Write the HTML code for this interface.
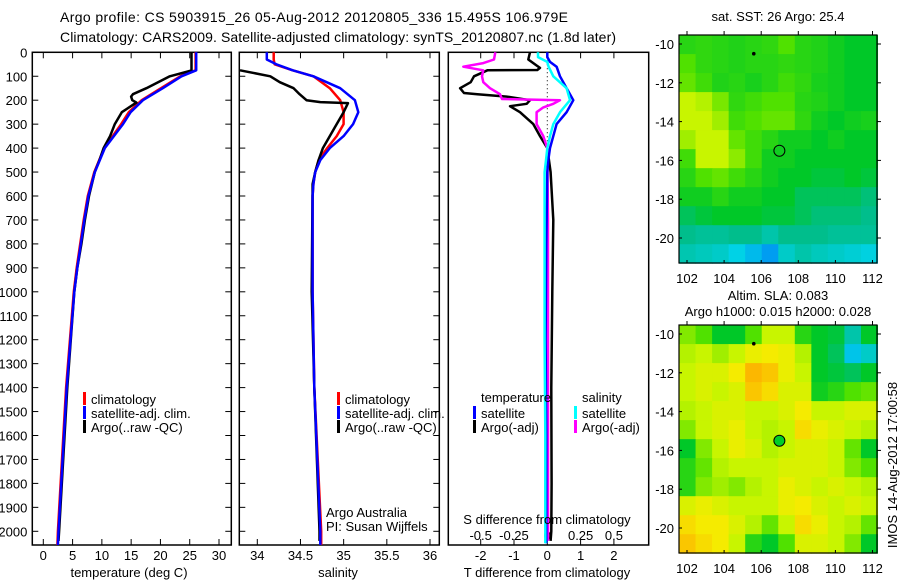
<!DOCTYPE html>
<html><head><meta charset="utf-8">
<style>
html,body{margin:0;padding:0;background:#fff;}
svg{display:block;font-family:"Liberation Sans",sans-serif;}
text{font-size:13px;fill:#000;}
</style></head>
<body>
<svg id="chart" width="900" height="580" viewBox="0 0 900 580" xmlns="http://www.w3.org/2000/svg">
<text x="60" y="22" style="font-size:14px" textLength="508">Argo profile: CS 5903915_26 05-Aug-2012 20120805_336 15.495S 106.979E</text>
<text x="60" y="42" style="font-size:14px" textLength="556">Climatology: CARS2009. Satellite-adjusted climatology: synTS_20120807.nc (1.8d later)</text>
<g id="g1"></g>
<g id="g2"></g>
<g id="g3"></g>
<g id="m1"></g>
<g id="m2"></g>
<text transform="translate(897,465) rotate(-90)" text-anchor="middle">IMOS 14-Aug-2012 17:00:58</text>
</svg>
<script>
// ---------- data ----------
const tempDepth = [0,75,100,150,200,250,300,400,500,600,700,800,900,1000,1400,2000,2057];
const tempClim  = [26,26,23.4,20.1,16.8,14.6,13.3,10.4,8.7,7.6,6.9,6.3,5.7,5.2,3.9,2.5,2.4];
const tempSat   = [26.1,26.1,23.6,20.4,17,14.9,13.6,10.5,8.8,7.7,7,6.4,5.8,5.3,4.0,2.6,2.5];
const argoTDepth= [0,75,76,100,150,175,185,200,210,250,300,350,400,450,500,600,700,800,900,1000,1400,2000,2040];
const argoTemp  = [25.3,25.3,25.3,21.6,17.6,15.3,15,15.2,15.9,13.4,12.2,11.4,10.3,9.6,8.8,7.8,7.1,6.5,5.8,5.3,4.1,2.7,2.6];

const salDepth = [0,20,30,50,75,100,150,200,250,300,350,400,450,500,550,600,1000,1400,2000,2057];
const salClim  = [34.19,34.19,34.19,34.2,34.41,34.65,34.84,34.96,35.0,35.0,34.92,34.81,34.71,34.67,34.65,34.64,34.64,34.66,34.74,34.74];
const salSat   = [34.11,34.11,34.11,34.22,34.41,34.65,34.96,35.13,35.17,35.11,35.0,34.84,34.73,34.67,34.65,34.64,34.64,34.66,34.73,34.73];
const argoSDepth=[75,100,125,150,175,200,208,212,250,300,350,400,450,500,550,1000,1400,2000,2040];
const argoSal  = [33.8,34.15,34.26,34.42,34.49,34.57,34.73,35.05,35.0,34.92,34.84,34.76,34.71,34.67,34.64,34.63,34.66,34.72,34.72];

const dDepth   = [0,20,40,60,100,150,200,250,300,350,400,450,500,800,1200,1600,2000,2050];
const dTsat    = [0,0,0.08,0.28,0.38,0.58,0.78,0.58,0.28,0.18,0.08,0.03,0,-0.03,-0.05,-0.03,-0.03,-0.03];
const dSsat    = [-0.07,-0.07,0,0.01,0.045,0.145,0.17,0.095,0.045,0.02,0,-0.01,-0.02,-0.02,-0.02,-0.015,-0.015,-0.015];
const dTDepth  = [0,30,55,65,74,75,100,125,150,170,175,185,200,215,225,250,275,300,350,400,500,700,1000,1400,1800,2000,2040];
const dTargo   = [-0.52,-0.57,-0.32,-0.22,-0.3,-1.8,-2.2,-2.3,-2.62,-2.5,-2.1,-1.22,-0.52,-0.62,-1.12,-0.82,-0.62,-0.42,-0.22,0,0.1,0.18,0.15,0.12,0.13,0.12,0.1];
const dSDepth  = [0,30,45,60,75,100,125,150,175,195,200,215,230,250,300,350,400,700,1200,2000,2040];
const dSargo   = [-0.39,-0.4,-0.48,-0.63,-0.48,-0.49,-0.48,-0.43,-0.355,-0.34,0.095,0.045,-0.03,-0.08,-0.08,-0.03,0,0.005,0.005,0.005,0.005];

const tempTicks = [0,5,10,15,20,25,30];
const salTicks  = [34,34.5,35,35.5,36];
const dTTicks   = [-2,-1,0,1,2];
const dSTicks   = [-0.5,-0.25,0,0.25,0.5];
const depthTicks= [0,100,200,300,400,500,600,700,800,900,1000,1100,1200,1300,1400,1500,1600,1700,1800,1900,2000];
const lonTicks  = [102,104,106,108,110,112];
const latTicks  = [-10,-12,-14,-16,-18,-20];

const sstGrid = [
[0.55,0.56,0.55,0.54,0.55,0.56,0.6,0.55,0.54,0.52,0.5,0.5],
[0.6,0.56,0.55,0.54,0.55,0.55,0.56,0.55,0.54,0.52,0.5,0.5],
[0.62,0.58,0.54,0.55,0.53,0.55,0.58,0.56,0.53,0.52,0.5,0.5],
[0.72,0.7,0.64,0.56,0.58,0.6,0.6,0.55,0.54,0.52,0.5,0.5],
[0.72,0.72,0.68,0.58,0.6,0.62,0.62,0.56,0.52,0.5,0.52,0.53],
[0.68,0.72,0.72,0.62,0.58,0.55,0.52,0.52,0.5,0.52,0.5,0.5],
[0.58,0.72,0.72,0.66,0.58,0.52,0.52,0.5,0.5,0.5,0.5,0.5],
[0.55,0.6,0.62,0.58,0.55,0.52,0.5,0.5,0.48,0.48,0.5,0.48],
[0.52,0.52,0.55,0.52,0.52,0.5,0.5,0.45,0.45,0.45,0.45,0.42],
[0.45,0.48,0.5,0.5,0.5,0.48,0.48,0.45,0.42,0.42,0.42,0.4],
[0.4,0.38,0.38,0.4,0.4,0.35,0.4,0.4,0.4,0.38,0.38,0.38],
[0.34,0.32,0.3,0.25,0.2,0.14,0.3,0.35,0.32,0.3,0.28,0.26]];
const slaGrid = [
[0.65,0.6,0.5,0.5,0.6,0.72,0.72,0.55,0.5,0.48,0.35,0.5],
[0.7,0.72,0.68,0.72,0.78,0.8,0.78,0.7,0.5,0.45,0.22,0.3],
[0.72,0.75,0.75,0.8,0.87,0.85,0.78,0.72,0.5,0.48,0.45,0.5],
[0.72,0.75,0.72,0.75,0.85,0.82,0.75,0.75,0.52,0.55,0.6,0.62],
[0.7,0.72,0.75,0.75,0.72,0.72,0.75,0.8,0.72,0.72,0.75,0.75],
[0.65,0.72,0.75,0.78,0.72,0.7,0.72,0.82,0.78,0.75,0.72,0.7],
[0.5,0.65,0.72,0.78,0.75,0.7,0.72,0.75,0.75,0.72,0.62,0.5],
[0.55,0.62,0.7,0.72,0.72,0.72,0.75,0.75,0.75,0.72,0.65,0.6],
[0.55,0.65,0.68,0.65,0.7,0.72,0.78,0.75,0.72,0.75,0.72,0.7],
[0.75,0.78,0.75,0.72,0.72,0.72,0.78,0.8,0.75,0.72,0.75,0.72],
[0.82,0.8,0.8,0.75,0.7,0.62,0.72,0.82,0.78,0.72,0.7,0.62],
[0.85,0.82,0.8,0.72,0.55,0.5,0.6,0.75,0.75,0.72,0.65,0.5]];
const argoLon = 106.98, argoLat = -15.5;

// ---------- helpers ----------
const NS = "http://www.w3.org/2000/svg";
function mk(parent, tag, attrs, txt){
  const e = document.createElementNS(NS, tag);
  for (const k in attrs) e.setAttribute(k, attrs[k]);
  if (txt !== undefined) e.textContent = txt;
  parent.appendChild(e); return e;
}
const TOP = 52.3, BOT = 545, DSC = 0.2395;
const yD = d => TOP + d * DSC;
function lin(d0, d1, p0, p1){ return v => p0 + (v - d0) * (p1 - p0) / (d1 - d0); }

function panelFrame(g, x0, x1, yLabels){
  const r = mk(g, 'rect', {x:x0, y:TOP, width:x1-x0, height:BOT-TOP, fill:'none', stroke:'#000', 'stroke-width':1.5});
  
  
  depthTicks.forEach(d => {
    const y = yD(d);
    mk(g, 'line', {x1:x0, x2:x0+6, y1:y, y2:y, stroke:'#000'});
    mk(g, 'line', {x1:x1-6, x2:x1, y1:y, y2:y, stroke:'#000'});
    if (yLabels){
      const t = mk(g, 'text', {x:x0-5, y:y+5, 'text-anchor':'end'}, String(d));
      
      
    }
  });
}
function xTicks(g, ticks, sx, yTxt, labels){
  ticks.forEach((v,i) => {
    const x = sx(v);
    mk(g, 'line', {x1:x, x2:x, y1:BOT-6, y2:BOT, stroke:'#000'});
    mk(g, 'line', {x1:x, x2:x, y1:TOP, y2:TOP+6, stroke:'#000'});
    const t = mk(g, 'text', {x:x, y:yTxt, 'text-anchor':'middle'}, labels ? labels[i] : String(v));
    
    
  });
}
function profile(g, depths, vals, sx, color, name, w){
  const pts = depths.map((d,i) => sx(vals[i]).toFixed(1) + ',' + yD(d).toFixed(1)).join(' ');
  const p = mk(g, 'polyline', {points:pts, fill:'none', stroke:color, 'stroke-width':w||2.5, 'stroke-linejoin':'round'});
  
  
}
function legendEntry(g, x, y, color, label){
  mk(g, 'rect', {x:x, y:y-10, width:3, height:13, fill:color});
  const t = mk(g, 'text', {x:x+8, y:y+2}, label);
  
  
}
function label(g, x, y, txt, name, anchor){
  const t = mk(g, 'text', {x:x, y:y, 'text-anchor':anchor||'start'}, txt);
  
  
}

// ---------- panel 1 ----------
const g1 = document.getElementById('g1');
const sxT = lin(0, 30, 43.3, 219);
panelFrame(g1, 32.3, 231.3, true);
xTicks(g1, tempTicks, sxT, 560);
profile(g1, tempDepth, tempClim, sxT, '#ff0000', 'climatology-temp-line');
profile(g1, argoTDepth, argoTemp, sxT, '#000000', 'argo-temp-line');
profile(g1, tempDepth, tempSat, sxT, '#0000ff', 'satellite-temp-line');
legendEntry(g1, 83, 402, '#ff0000', 'climatology');
legendEntry(g1, 83, 416, '#0000ff', 'satellite-adj. clim.');
legendEntry(g1, 83, 430, '#000000', 'Argo(..raw -QC)');
label(g1, 129, 577, 'temperature (deg C)', 'x-axis-title', 'middle');

// ---------- panel 2 ----------
const g2 = document.getElementById('g2');
const sxS = lin(34, 36, 257.3, 430);
panelFrame(g2, 239.3, 439.3, false);
xTicks(g2, salTicks, sxS, 560);
profile(g2, salDepth, salClim, sxS, '#ff0000', 'climatology-salinity-line');
profile(g2, argoSDepth, argoSal, sxS, '#000000', 'argo-salinity-line');
profile(g2, salDepth, salSat, sxS, '#0000ff', 'satellite-salinity-line');
legendEntry(g2, 337, 402, '#ff0000', 'climatology');
legendEntry(g2, 337, 416, '#0000ff', 'satellite-adj. clim.');
legendEntry(g2, 337, 430, '#000000', 'Argo(..raw -QC)');
label(g2, 326, 517, 'Argo Australia', 'credit-argo-australia');
label(g2, 326, 531, 'PI: Susan Wijffels', 'credit-pi');
label(g2, 338, 577, 'salinity', 'x-axis-title', 'middle');

// ---------- panel 3 ----------
const g3 = document.getElementById('g3');
const sxDT = lin(0, 1, 547.3, 580.6);
const sxDS = lin(0, 1, 547.3, 680.6);
mk(g3, 'rect', {x:448.3, y:TOP, width:200.4, height:BOT-TOP, fill:'none', stroke:'#000', 'stroke-width':1.5});
dTTicks.forEach(v => {
  const x = sxDT(v);
  mk(g3, 'line', {x1:x, x2:x, y1:BOT-6, y2:BOT, stroke:'#000'});
  mk(g3, 'line', {x1:x, x2:x, y1:TOP, y2:TOP+6, stroke:'#000'});
  label(g3, x, 560, String(v), 't-diff-tick-label', 'middle');
});
dSTicks.forEach(v => { label(g3, sxDS(v), 540, String(v), 's-diff-tick-label', 'middle'); });
mk(g3, 'line', {x1:547.3, x2:547.3, y1:TOP, y2:yD(430), stroke:'#000', 'stroke-dasharray':'1,3'});
profile(g3, dTDepth, dTargo, sxDT, '#000000', 'argo-temp-diff-line');
profile(g3, dSDepth, dSargo, sxDS, '#ff00ff', 'argo-salinity-diff-line');
profile(g3, dDepth, dTsat, sxDT, '#0000ff', 'satellite-temp-diff-line');
profile(g3, dDepth, dSsat, sxDS, '#00ffff', 'satellite-salinity-diff-line');
label(g3, 481, 402, 'temperature', 'legend-header-temperature');
label(g3, 582, 402, 'salinity', 'legend-header-salinity');
legendEntry(g3, 473, 416, '#0000ff', 'satellite');
legendEntry(g3, 473, 430, '#000000', 'Argo(-adj)');
legendEntry(g3, 574, 416, '#00ffff', 'satellite');
legendEntry(g3, 574, 430, '#ff00ff', 'Argo(-adj)');
label(g3, 547, 524, 'S difference from climatology', 's-diff-axis-title', 'middle');
label(g3, 547, 577, 'T difference from climatology', 't-diff-axis-title', 'middle');

// ---------- maps ----------
const stops = [[0,[0,90,255]],[0.25,[0,210,230]],[0.4,[0,190,140]],[0.5,[0,200,40]],[0.6,[80,225,0]],[0.72,[200,245,0]],[0.8,[245,235,0]],[0.9,[255,160,0]],[1,[255,100,0]]];
function cmap(v){
  for (let i=1;i<stops.length;i++){
    if (v <= stops[i][0]){
      const [a,ca] = stops[i-1], [b,cb] = stops[i], f = (v-a)/(b-a);
      return 'rgb(' + ca.map((c,k)=>Math.round(c+(cb[k]-c)*f)).join(',') + ')';
    }
  }
  return 'rgb(255,100,0)';
}
function drawMap(id, grid, yTop, title1, title2){
  const g = document.getElementById(id);
  const x0 = 679, x1 = 877, y0 = yTop, y1 = yTop + 228;
  const sLon = lin(102, 112, 687, 872.5);
  const sLat = lin(-10, -20, yTop + 9, yTop + 203);
  const lonMin = 101.57, lonMax = 112.27, latMax = -9.54, latMin = -21.3;
  const nr = grid.length, nc = grid[0].length;
  const dLon = (lonMax - lonMin) / nc, dLat = (latMax - latMin) / nr;
  grid.forEach((row, r) => row.forEach((v, c) => {
    const xa = sLon(lonMin + c*dLon), xb = sLon(lonMin + (c+1)*dLon);
    const ya = sLat(latMax - r*dLat), yb = sLat(latMax - (r+1)*dLat);
    const cell = mk(g, 'rect', {x:xa, y:ya, width:xb-xa+0.5, height:yb-ya+0.5, fill:cmap(v)});
    
    
  }));
  mk(g, 'rect', {x:x0, y:y0, width:x1-x0, height:y1-y0, fill:'none', stroke:'#000', 'stroke-width':1.2});
  lonTicks.forEach(v => {
    const x = sLon(v);
    mk(g, 'line', {x1:x, x2:x, y1:y0-4, y2:y0, stroke:'#000'});
    mk(g, 'line', {x1:x, x2:x, y1:y1-3, y2:y1, stroke:'#000'});
    label(g, x, y1+20, String(v), 'lon-tick-label', 'middle');
  });
  latTicks.forEach(v => {
    const y = sLat(v);
    mk(g, 'line', {x1:x1, x2:x1+4, y1:y, y2:y, stroke:'#000'});
    mk(g, 'line', {x1:x0, x2:x0+3, y1:y, y2:y, stroke:'#000'});
    label(g, x0-5, y+5, String(v), 'lat-tick-label', 'end');
  });
  const ci = Math.min(nc-1, Math.floor((argoLon-lonMin)/dLon)), ri = Math.min(nr-1, Math.floor((latMax-argoLat)/dLat));
  const m = mk(g, 'circle', {cx:sLon(argoLon), cy:sLat(argoLat), r:5.5, fill:id==='m2'?'rgb(0,205,40)':cmap(grid[ri][ci]), stroke:'#000', 'stroke-width':1});
  
  
  mk(g, 'circle', {cx:sLon(105.6), cy:sLat(-10.5), r:1.8, fill:'#000'});
  if (title2){
    label(g, 778, yTop-25, title1, 'map-title', 'middle');
    label(g, 778, yTop-9, title2, 'map-subtitle', 'middle');
  } else {
    label(g, 778, yTop-14, title1, 'map-title', 'middle');
  }
}
drawMap('m1', sstGrid, 35, 'sat. SST: 26 Argo: 25.4');
drawMap('m2', slaGrid, 325, 'Altim. SLA: 0.083', 'Argo h1000: 0.015 h2000: 0.028');
</script>
</body></html>
